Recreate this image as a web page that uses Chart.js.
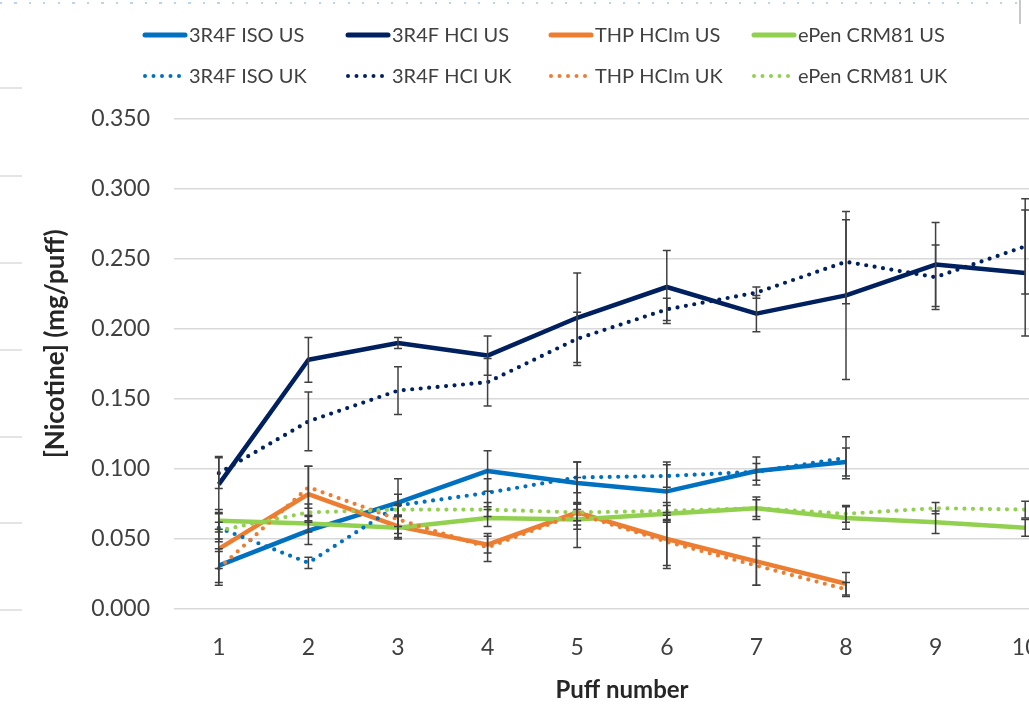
<!DOCTYPE html>
<html>
<head>
<meta charset="utf-8">
<script src="https://cdn.jsdelivr.net/npm/chart.js@4.4.1/dist/chart.umd.min.js"></script>
<style>
  html, body { margin: 0; padding: 0; background: #ffffff; overflow: hidden; width: 1029px; height: 705px; }
  #wrap { position: absolute; left: 0; top: 0; width: 1075px; height: 705px; }
  #topdots { position: absolute; left: 0; top: 2px; width: 1029px; height: 2px;
    background: repeating-linear-gradient(to right, #b9d6ec 0 2px, transparent 2px 14.5px); }
  #rightedge { position: absolute; left: 1019px; top: 0; width: 2px; height: 24px; background: #c8c8c8; }
  .ghost { position: absolute; left: 0; width: 22px; height: 2px; background: #e4e4e4; }
</style>
</head>
<body>
<div id="wrap"><canvas id="c"></canvas></div>
<div id="topdots"></div>
<div id="rightedge"></div>
<div class="ghost" style="top:87px"></div>
<div class="ghost" style="top:175px"></div>
<div class="ghost" style="top:262px"></div>
<div class="ghost" style="top:349px"></div>
<div class="ghost" style="top:436px"></div>
<div class="ghost" style="top:522px"></div>
<div class="ghost" style="top:609px"></div>
<script>
// ---- data ----
const puffs = ['1', '2', '3', '4', '5', '6', '7', '8', '9', '10'];

const isoUS  = [0.031, 0.056, 0.076, 0.0986, 0.090, 0.084, 0.0986, 0.105, null, null];
const hciUS  = [0.089, 0.178, 0.190, 0.181, 0.208, 0.230, 0.211, 0.224, 0.246, 0.240];
const thpUS  = [0.043, 0.082, 0.059, 0.046, 0.069, 0.050, 0.034, 0.018, null, null];
const epenUS = [0.063, 0.061, 0.058, 0.065, 0.064, 0.068, 0.072, 0.065, 0.062, 0.058];
const isoUK  = [0.058, 0.033, 0.074, 0.083, 0.094, 0.095, 0.098, 0.108, null, null];
const hciUK  = [0.097, 0.134, 0.156, 0.162, 0.193, 0.214, 0.226, 0.248, 0.237, 0.259];
const thpUK  = [0.029, 0.087, 0.064, 0.044, 0.068, 0.048, 0.031, 0.014, null, null];
const epenUK = [0.056, 0.069, 0.071, 0.071, 0.069, 0.070, 0.072, 0.068, 0.072, 0.071];

const isoUSErr  = [0.012, 0.010, 0.017, 0.0145, 0.015, 0.021, 0.010, 0.010, null, null];
const hciUSErr  = [0.020, 0.016, 0.004, 0.014, 0.032, 0.026, 0.013, 0.060, 0.030, 0.045];
const thpUSErr  = [0.014, 0.020, 0.008, 0.006, 0.025, 0.019, 0.017, 0.008, null, null];
const epenUSErr = [0.008, 0.006, 0.008, 0.006, 0.007, 0.006, 0.008, 0.008, 0.008, 0.006];
const isoUKErr  = [0.010, 0.004, 0.008, 0.010, 0.011, 0.008, 0.006, 0.015, null, null];
const hciUKErr  = [0.011, 0.021, 0.017, 0.017, 0.019, 0.008, 0.004, 0.030, 0.023, 0.034];
const thpUKErr  = [0.012, 0.015, 0.010, 0.010, 0.008, 0.019, 0.014, 0.005, null, null];
const epenUKErr = [0.006, 0.006, 0.004, 0.005, 0.006, 0.006, 0.006, 0.006, 0.004, 0.006];

const seriesLabels = ['3R4F ISO US', '3R4F HCI US', 'THP HCIm US', 'ePen CRM81 US',
                      '3R4F ISO UK', '3R4F HCI UK', 'THP HCIm UK', 'ePen CRM81 UK'];
const yTicks = [0, 0.05, 0.10, 0.15, 0.20, 0.25, 0.30, 0.35];
const yTitle = '[Nicotine] (mg/puff)';
const xTitle = 'Puff number';

// ---- styles ----
const BLUE = '#0070C0', NAVY = '#002060', ORANGE = '#ED7D31', GREEN = '#92D050';
const DOT = [0, 8.5];

function line(label, data, err, color, dotted, i) {
  return {
    label, data, errors: err,
    borderColor: color, backgroundColor: color,
    borderWidth: dotted ? 4.2 : 4.5,
    borderDash: dotted ? DOT : [],
    borderCapStyle: dotted ? 'round' : 'butt',
    borderJoinStyle: 'round',
    pointRadius: 0, pointHoverRadius: 0,
    tension: 0, spanGaps: false, fill: false,
    order: -i
  };
}

const datasets = [
  line(seriesLabels[0], isoUS,  isoUSErr,  BLUE,   false, 0),
  line(seriesLabels[1], hciUS,  hciUSErr,  NAVY,   false, 1),
  line(seriesLabels[2], thpUS,  thpUSErr,  ORANGE, false, 2),
  line(seriesLabels[3], epenUS, epenUSErr, GREEN,  false, 3),
  line(seriesLabels[4], isoUK,  isoUKErr,  BLUE,   true,  4),
  line(seriesLabels[5], hciUK,  hciUKErr,  NAVY,   true,  5),
  line(seriesLabels[6], thpUK,  thpUKErr,  ORANGE, true,  6),
  line(seriesLabels[7], epenUK, epenUKErr, GREEN,  true,  7)
];

// error bars drawn through the chart scales
const errorBars = {
  id: 'errorBars',
  afterDatasetsDraw(chart) {
    const ctx = chart.ctx, xs = chart.scales.x, ys = chart.scales.y;
    ctx.save();
    ctx.strokeStyle = '#404040';
    ctx.lineWidth = 1.5;
    ctx.setLineDash([]);
    chart.data.datasets.forEach(ds => {
      ds.data.forEach((v, i) => {
        const e = ds.errors[i];
        if (v == null || e == null) return;
        const x = xs.getPixelForValue(i);
        const y1 = ys.getPixelForValue(v + e), y2 = ys.getPixelForValue(v - e);
        ctx.beginPath();
        ctx.moveTo(x, y1); ctx.lineTo(x, y2);
        ctx.moveTo(x - 4, y1); ctx.lineTo(x + 4, y1);
        ctx.moveTo(x - 4, y2); ctx.lineTo(x + 4, y2);
        ctx.stroke();
      });
    });
    ctx.restore();
  }
};

// two-row, four-column legend like the original
const gridLegend = {
  id: 'gridLegend',
  afterDraw(chart, args, o) {
    const ctx = chart.ctx;
    ctx.save();
    ctx.font = o.font;
    ctx.fillStyle = o.color;
    ctx.textBaseline = 'middle';
    ctx.textAlign = 'left';
    chart.data.datasets.forEach((d, i) => {
      const col = i % o.columns, row = Math.floor(i / o.columns);
      const x = o.left + col * o.colWidth;
      const y = o.top + row * o.rowHeight;
      ctx.beginPath();
      ctx.strokeStyle = d.borderColor;
      ctx.lineWidth = d.borderDash.length ? 4 : 5;
      ctx.setLineDash(d.borderDash);
      ctx.lineCap = 'round';
      ctx.moveTo(x, y);
      ctx.lineTo(x + o.lineLength, y);
      ctx.stroke();
      ctx.setLineDash([]);
      ctx.fillText(d.label, x + o.lineLength + o.gap, y + 1);
    });
    ctx.restore();
  }
};

// vertical axis title, placed a little above the plot centre as in the original
const yAxisTitle = {
  id: 'yAxisTitle',
  afterDraw(chart, args, o) {
    const ctx = chart.ctx, a = chart.chartArea;
    ctx.save();
    ctx.font = o.font;
    ctx.fillStyle = o.color;
    ctx.textAlign = 'center';
    ctx.textBaseline = 'middle';
    ctx.translate(o.x, a.top + (a.bottom - a.top) * o.frac);
    ctx.rotate(-Math.PI / 2);
    ctx.fillText(o.text, 0, 0);
    ctx.restore();
  }
};

Chart.defaults.font.family = 'Lato';
Chart.defaults.color = '#404040';

new Chart(document.getElementById('c'), {
  type: 'line',
  data: { labels: puffs, datasets },
  plugins: [errorBars, gridLegend, yAxisTitle],
  options: {
    responsive: true,
    maintainAspectRatio: false,
    animation: false,
    devicePixelRatio: 1,
    layout: { padding: { top: 119, left: 0, right: 5, bottom: 0 } },
    plugins: {
      legend: { display: false },
      tooltip: { enabled: false },
      gridLegend: { font: '20px Lato', color: '#404040', columns: 4, left: 145, colWidth: 203,
                    top: 35, rowHeight: 41, lineLength: 40, gap: 4 },
      yAxisTitle: { text: yTitle, font: 'bold 26px Lato', color: '#262626', x: 56, frac: 0.459 }
    },
    scales: {
      x: {
        type: 'category',
        offset: true,
        grid: { display: false, drawTicks: false },
        border: { display: false },
        ticks: { font: { size: 23 }, color: '#404040', padding: 25, maxRotation: 0 },
        title: { display: true, text: xTitle, font: { size: 24, weight: 'bold' },
                 color: '#262626', padding: { top: 0, bottom: 0 } },
        afterFit(scale) { scale.height = 96; }
      },
      y: {
        min: 0, max: 0.35,
        afterBuildTicks(scale) { scale.ticks = yTicks.map(v => ({ value: v })); },
        ticks: { font: { size: 23 }, color: '#404040', padding: 24,
                 callback: v => Number(v).toFixed(3) },
        grid: { color: '#d9d9d9', lineWidth: 1.5, drawTicks: false },
        border: { display: false },
        title: { display: false },
        afterFit(scale) { scale.width = 174; }
      }
    }
  }
});
</script>
</body>
</html>
